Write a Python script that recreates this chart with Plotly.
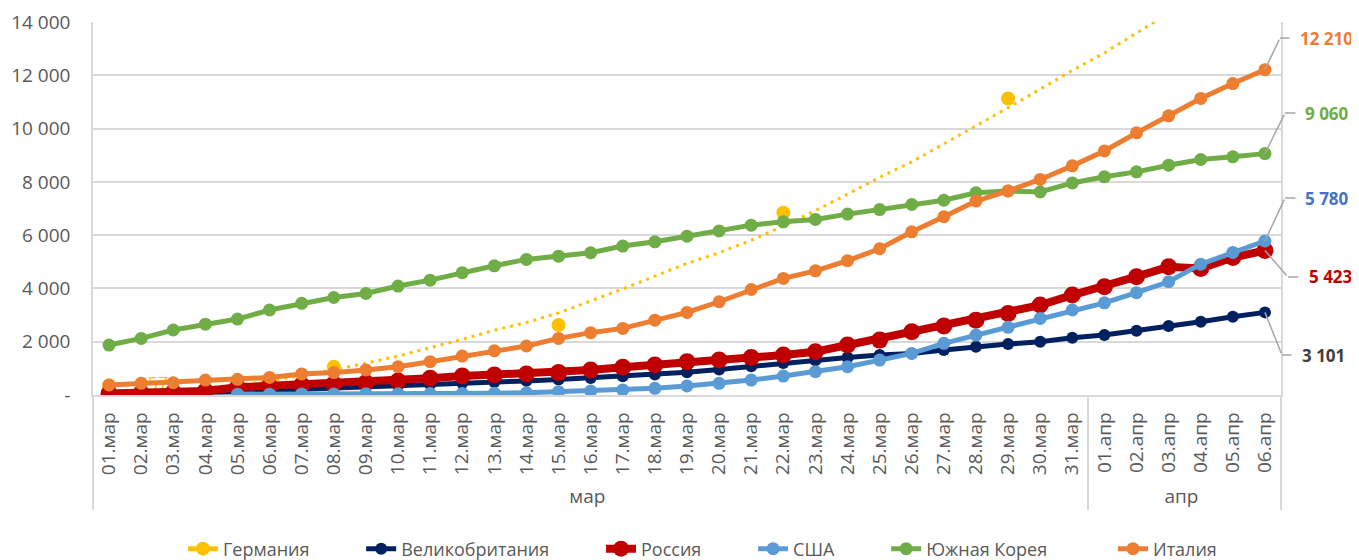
import plotly.graph_objects as go

# ---- data ----
days = [f"{d:02d}.мар" for d in range(1, 32)] + [f"{d:02d}.апр" for d in range(1, 7)]
months = ["мар"] * 31 + ["апр"] * 6

germany = [357, None, None, None, None, None, None, 1060, None, None, None, None, None, None,
           2625, None, None, None, None, None, None, 6840, None, None, None, None, None, None,
           11130, None, None, None, None, None, None, None, None]
germany_trend = [25, 100, 170, 270, 380, 530, 720, 960, 1190, 1460, 1770, 2090, 2430, 2720,
                 3080, 3520, 3980, 4460, 4940, 5340, 5810, 6340, 6920, 7540, 8170, 8750, 9420,
                 10100, 10780, 11480, 12180, 12840, 13580, 14330, None, None, None]
uk = [40, 50, 60, 90, 120, 170, 210, 270, 320, 360, 400, 450, 490, 530, 580, 640, 700, 770,
      850, 960, 1080, 1200, 1300, 1410, 1500, 1560, 1690, 1810, 1910, 2000, 2150, 2250, 2410,
      2590, 2750, 2940, 3101]
russia = [60, 70, 90, 150, 290, 340, 375, 410, 460, 525, 625, 710, 750, 790, 840, 940, 1040,
          1125, 1250, 1310, 1410, 1500, 1625, 1875, 2060, 2375, 2590, 2810, 3060, 3375, 3750,
          4060, 4440, 4810, 4750, 5160, 5423]
usa = [None, None, None, None, 30, 30, 40, 40, 50, 50, 55, 60, 70, 85, 125, 150, 190, 250, 340,
       440, 560, 710, 875, 1060, 1310, 1560, 1940, 2250, 2540, 2875, 3190, 3460, 3840, 4250,
       4910, 5350, 5780]
korea = [1875, 2125, 2440, 2660, 2850, 3190, 3440, 3660, 3810, 4090, 4310, 4590, 4850, 5090,
         5210, 5340, 5590, 5750, 5960, 6160, 6375, 6500, 6590, 6790, 6960, 7150, 7310, 7590,
         7660, 7620, 7960, 8190, 8375, 8625, 8840, 8940, 9060]
italy = [375, 440, 460, 560, 590, 660, 790, 840, 940, 1060, 1250, 1460, 1660, 1840, 2125, 2340,
         2500, 2810, 3100, 3500, 3960, 4375, 4660, 5040, 5490, 6125, 6690, 7280, 7660, 8090,
         8600, 9160, 9840, 10480, 11130, 11690, 12210]

y_ticks = [0, 2000, 4000, 6000, 8000, 10000, 12000, 14000]
y_ticktext = ["-", "2 000", "4 000", "6 000", "8 000", "10 000", "12 000", "14 000"]

FONT = "Open Sans"
GRAY = "#595959"
GRID = "#D9D9D9"
NB = "\u00a0"

x = [months, days]
fig = go.Figure()

g_text = [NB * 4 + "357" if i == 0 else "" for i in range(len(days))]
fig.add_trace(go.Scatter(x=x, y=germany, name="Германия" + NB * 10, mode="lines+markers+text",
                         text=g_text, textposition="middle right",
                         textfont=dict(color="#FFC000", size=18, family=FONT),
                         line=dict(color="#FFC000", width=5), marker=dict(size=14, color="#FFC000"),
                         connectgaps=False))
fig.add_trace(go.Scatter(x=x, y=germany_trend, mode="lines", showlegend=False, hoverinfo="skip",
                         line=dict(color="#FFC000", width=3, dash="3px,5px")))

series = [
    ("Великобритания" + NB * 10, uk, "#002060", 5, 12),
    ("Россия" + NB * 10, russia, "#C00000", 8, 17),
    ("США" + NB * 10, usa, "#5B9BD5", 5, 13),
    ("Южная Корея" + NB * 13, korea, "#70AD47", 5, 13),
    ("Италия", italy, "#ED7D31", 5, 13),
]
for name, vals, col, lw, ms in series:
    fig.add_trace(go.Scatter(x=x, y=vals, name=name, mode="lines+markers",
                             line=dict(color=col, width=lw), marker=dict(size=ms, color=col)))

# end labels with leader lines
last = len(days) - 1
labels = [
    (italy[-1], 13395, "#ED7D31", 15, 26, 33),
    (korea[-1], 10580, "#70AD47", 20, 32, 38),
    (usa[-1], 7390, "#4472C4", 20, 32, 38),
    (russia[-1], 4430, "#C00000", 23, 35, 42),
    (uk[-1], 1500, "#404040", 17, 28, 35),
]
anns = []
for val, ly, col, dx1, dx2, tx in labels:
    anns.append(dict(x=last, y=val, xref="x", yref="y", axref="pixel", ax=dx1, ayref="y", ay=ly,
                     text="", showarrow=True, arrowhead=0, arrowwidth=1.5, arrowcolor="#A6A6A6"))
    anns.append(dict(x=last, y=ly, xref="x", yref="y", axref="pixel", ax=dx2, ayref="pixel", ay=0,
                     text="", showarrow=True, arrowhead=0, arrowwidth=1.5, arrowcolor="#A6A6A6",
                     standoff=dx1))
    lbl = f"{val:,}".replace(",", " ")
    anns.append(dict(x=last, y=ly, xref="x", yref="y", showarrow=False, xanchor="left",
                     xshift=tx, text=f"<b>{lbl}</b>", font=dict(size=17, color=col, family=FONT)))

# page body has an 8px margin: figure is 1351x552 so it ends at the window edge
fig.update_layout(
    width=1351, height=552,
    margin=dict(l=85, r=78, t=14, b=165, autoexpand=False),
    paper_bgcolor="white", plot_bgcolor="white",
    font=dict(family=FONT, size=18, color=GRAY),
    showlegend=True,
    legend=dict(orientation="h", x=0.513, xanchor="center", yref="container", y=0.02,
                yanchor="middle", font=dict(size=18, color=GRAY, family=FONT)),
    annotations=anns,
)
fig.update_xaxes(type="multicategory", range=[-0.5, len(days) - 0.5], tickangle=-90,
                 showgrid=False, showline=True,
                 linecolor=GRID, linewidth=1.5, showdividers=True, dividercolor=GRID,
                 dividerwidth=1.5, tickfont=dict(size=19, color=GRAY, family=FONT), ticks="",
                 ticklabelstandoff=8, automargin=False)
fig.update_yaxes(range=[0, 14000], tickvals=y_ticks, ticktext=y_ticktext, showgrid=True,
                 gridcolor=GRID, gridwidth=1.5, zeroline=False, showline=True, mirror=True,
                 linecolor=GRID, linewidth=1.5, tickfont=dict(size=19, color=GRAY, family=FONT),
                 ticks="", ticklabelstandoff=17, fixedrange=True, automargin=False)

fig.write_html("out.html")
